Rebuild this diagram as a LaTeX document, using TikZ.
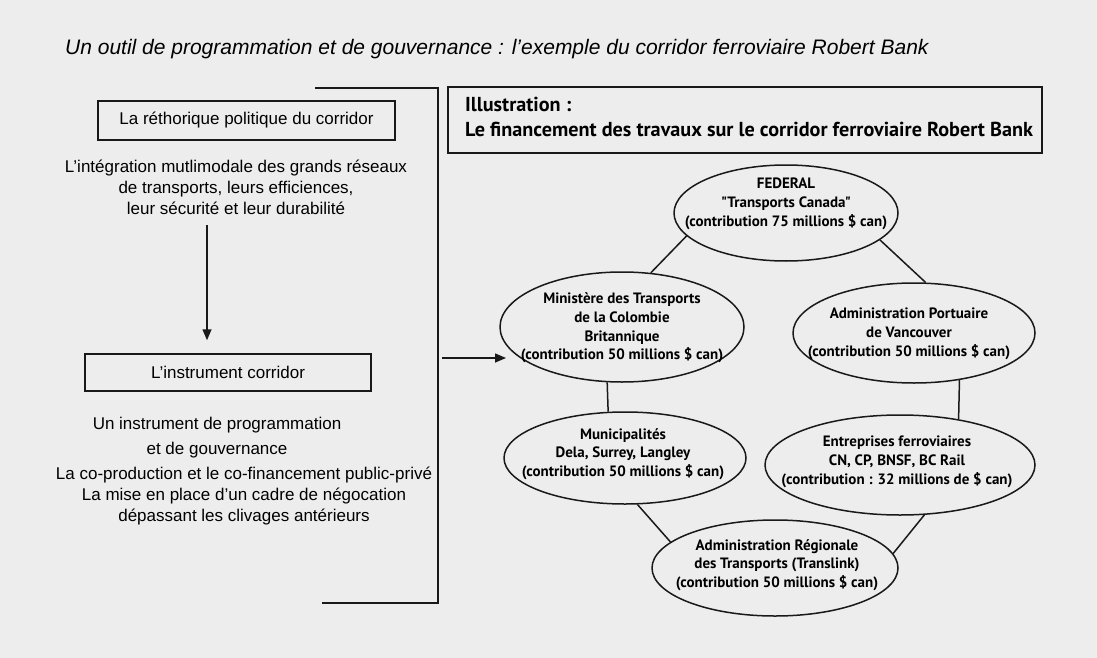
\documentclass[tikz,border=0pt]{standalone}
\usepackage{fontspec}
\setmainfont{Liberation Sans}
\newfontfamily\ptsans{PT Sans}
\usetikzlibrary{shapes.geometric,arrows.meta,calc}
\begin{document}
\begin{tikzpicture}[x=1pt,y=-1pt,
  ln/.style={draw=black!90, line width=1.5pt},
  arr/.style={ln, -{Triangle[length=11pt,width=9pt]}},
  plain/.style={align=center, inner sep=0pt, font=\fontsize{17}{21}\selectfont},
  box/.style={draw=black!90, line width=1.5pt, inner sep=0pt, font=\fontsize{17}{21}\selectfont},
  ell/.style={ellipse, draw=black!90, line width=1.5pt, inner sep=0pt},
  etext/.style={align=center, inner sep=0pt, font=\ptsans\bfseries\fontsize{15}{18.7}\selectfont},
  ill/.style={anchor=west, inner sep=0pt, font=\ptsans\bfseries\fontsize{20.2}{23}\selectfont}]
\useasboundingbox (0,0) rectangle (1097,658);
\fill[black!7] (0,0) rectangle (1097,658);

% title
\node[anchor=west, inner sep=0pt, font=\itshape\fontsize{21}{24}\selectfont] (title) at (65,49)
  {Un outil de programmation et de gouvernance : l'exemple du corridor ferroviaire Robert Bank};

% left column
\node[box, minimum width=297pt, minimum height=39pt] (rhet) at (246.5,120.5) {La réthorique politique du corridor};
\node[plain] (txt1) at (236,187) {L'intégration mutlimodale des grands réseaux\\de transports, leurs efficiences,\\leur sécurité et leur durabilité};
\node[box, minimum width=286pt, minimum height=37pt] (inst) at (228,372.5) {L'instrument corridor};
\node[plain, font=\fontsize{17}{25}\selectfont] (txt2) at (217,437.5) {Un instrument de programmation\\et de gouvernance};
\node[plain] (txt3) at (244,496) {La co-production et le co-financement public-privé\\La mise en place d'un cadre de négocation\\dépassant les clivages antérieurs};

\coordinate (a1) at (207,225);
\draw[arr, shorten >=13pt] (a1) -- (a1 |- inst.north);

% bracket
\coordinate (bt0) at (315,88);
\coordinate (bt1) at (438,88);
\coordinate (bb1) at (438,603);
\coordinate (bb0) at (322,603);
\draw[ln] (bt0) -- (bt1) -- (bb1) -- (bb0);
\coordinate (ar0) at (442,358);
\coordinate (ar1) at (506,358);
\draw[arr] (ar0) -- (ar1);

% illustration box
\node[draw=black!90, line width=1.5pt, minimum width=594pt, minimum height=66pt, inner sep=0pt] (illu) at (745,120) {};
\node[ill] (ill1) at (465,104) {Illustration :};
\node[ill] (ill2) at (465,129) {Le financement des travaux sur le corridor ferroviaire Robert Bank};

% ellipses
\node[ell, minimum width=224pt, minimum height=96pt] (fed) at (786,213) {};
\node[ell, minimum width=244pt, minimum height=110pt] (min) at (622,327) {};
\node[ell, minimum width=242pt, minimum height=100pt] (port) at (914,333) {};
\node[ell, minimum width=242pt, minimum height=92pt] (mun) at (625,458) {};
\node[ell, minimum width=270pt, minimum height=100pt] (ent) at (900,465) {};
\node[ell, minimum width=246pt, minimum height=96pt] (reg) at (775,568) {};

\node[etext] (fedt) at ($(fed)+(0,-9)$) {FEDERAL\\"Transports Canada"\\(contribution 75 millions \$ can)};
\node[etext] (mint) at ($(min)+(0,1)$) {Ministère des Transports\\de la Colombie\\Britannique\\(contribution 50 millions \$ can)};
\node[etext] (portt) at ($(port)+(-5,1)$) {Administration Portuaire\\de Vancouver\\(contribution 50 millions \$ can)};
\node[etext] (munt) at ($(mun)+(-2,-4)$) {Municipalités\\Dela, Surrey, Langley\\(contribution 50 millions \$ can)};
\node[etext] (entt) at ($(ent)+(-3,-3)$) {Entreprises ferroviaires\\CN, CP, BNSF, BC Rail\\(contribution : 32 millions de \$ can)};
\node[etext] (regt) at ($(reg)+(2,-3)$) {Administration Régionale\\des Transports (Translink)\\(contribution 50 millions \$ can)};

% connectors
\draw[ln] (fed.193) -- (min.62.6);
\draw[ln] (fed.344) -- (port.77.6);
\draw[ln] (min.255.7) -- (mun.110.3);
\draw[ln] (port.314.4) -- (ent.38);
\draw[ln] (mun.285.5) -- (reg.166.5);
\draw[ln] (ent.296.6) -- (reg.7.9);
\end{tikzpicture}
\end{document}
